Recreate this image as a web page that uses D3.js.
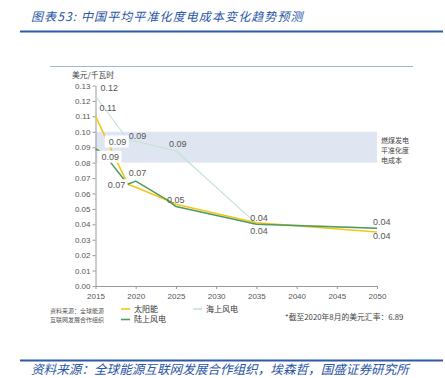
<!DOCTYPE html>
<html>
<head>
<meta charset="utf-8">
<script src="https://cdn.jsdelivr.net/npm/d3@7"></script>
<style>
  body { margin: 0; background: #fff; }
  svg { display: block; }
  .axis text { font-family: "Liberation Sans", Arial, sans-serif; font-size: 8px; fill: #555; }
  .axis path, .axis line { stroke: #999; }
</style>
</head>
<body>
<div id="chart"></div>
<script>

// data
const solarYears = [2015, 2019, 2020, 2024, 2025, 2035, 2050];
const solarValues = [0.110, 0.066, 0.064, 0.0555, 0.053, 0.041, 0.035];

const onshoreYears = [2015, 2016, 2019, 2020, 2024, 2025, 2035, 2050];
const onshoreValues = [0.089, 0.086, 0.066, 0.068, 0.0555, 0.0515, 0.040, 0.0375];

const offshoreYears = [2015, 2019, 2025, 2035, 2050];
const offshoreValues = [0.123, 0.095, 0.0877, 0.0405, 0.0375];

const coalBand = [0.08, 0.10];

const xTicks = [2015, 2020, 2025, 2030, 2035, 2040, 2045, 2050];
const yTicks = [0, 0.01, 0.02, 0.03, 0.04, 0.05, 0.06, 0.07, 0.08, 0.09, 0.10, 0.11, 0.12, 0.13];

// data labels: which series / year they belong to and the printed text
const labelSeries = ['offshore', 'solar', 'offshore', 'offshore', 'offshore', 'onshore', 'onshore', 'onshore', 'onshore', 'offshore', 'solar', 'onshore', 'solar'];
const labelYears = [2015, 2015, 2019, 2019, 2025, 2015, 2020, 2019, 2024, 2035, 2035, 2050, 2050];
const labelTexts = ['0.12', '0.11', '0.09', '0.09', '0.09', '0.09', '0.07', '0.07', '0.05', '0.04', '0.04', '0.04', '0.04'];

// layout of labels (offset from their point, px) - kept apart from the data
const labelOffsets = [[5, -8], [4, -8], [1, -4], [-19, 2], [-7, -7], [6, 8], [-7, -8], [-20, 1], [-1, -1], [-6, -6], [-6, 8], [-4, -6], [-4, 4]];
const labelBoxed = [false, false, false, true, false, true, false, true, false, false, false, false, false];

const series = {
    solar: { name: '太阳能', years: solarYears, values: solarValues, color: '#f2c617', width: 1.6 },
    onshore: { name: '陆上风电', years: onshoreYears, values: onshoreValues, color: '#4f9a5e', width: 1.5 },
    offshore: { name: '海上风电', years: offshoreYears, values: offshoreValues, color: '#c2e2d6', width: 1.1 }
};

const W = 445, H = 378;
const svg = d3.select('#chart').append('svg')
    .attr('width', W)
    .attr('height', H);

const cjk = '"Noto Sans CJK SC", "Noto Sans", sans-serif';
const latin = '"Liberation Sans", Arial, sans-serif';

// title + rule
svg.append('text')
    .attr('x', 31)
    .attr('y', 21)
    .text('图表53:  中国平均平准化度电成本变化趋势预测')
    .style('font-family', cjk)
    .style('font-style', 'italic')
    .style('font-size', '12px')
    .style('letter-spacing', '1.1px')
    .style('fill', '#2a56a5');

svg.append('line')
    .attr('x1', 20).attr('x2', 443)
    .attr('y1', 31.5).attr('y2', 31.5)
    .attr('stroke', '#2e5aa8')
    .attr('stroke-width', 2);

// thin frame line at top of the inner figure
svg.append('line')
    .attr('x1', 50).attr('x2', 413)
    .attr('y1', 66.5).attr('y2', 66.5)
    .attr('stroke', '#a3b6d1')
    .attr('stroke-width', 1);

// scales
const x = d3.scaleLinear().domain([2015, 2050]).range([95.5, 377]);
const y = d3.scaleLinear().domain([0, 0.13]).range([286, 85.5]);

// coal band
svg.append('rect')
    .attr('x', x(2015))
    .attr('y', y(coalBand[1]))
    .attr('width', x(2050) - x(2015))
    .attr('height', y(coalBand[0]) - y(coalBand[1]))
    .attr('fill', '#dfe6f1');

['燃煤发电', '平准化度', '电成本'].forEach((t, i) => {
    svg.append('text')
        .attr('x', 381)
        .attr('y', 142.5 + i * 10)
        .text(t)
        .style('font-family', cjk)
        .style('font-size', '7px')
        .style('fill', '#444');
});

// axes
svg.append('g')
    .attr('class', 'axis')
    .attr('transform', `translate(${x(2015)},0)`)
    .call(d3.axisLeft(y).tickValues(yTicks).tickFormat(d3.format('.2f')).tickSize(3).tickSizeOuter(0).tickPadding(2));

svg.append('g')
    .attr('class', 'axis')
    .attr('transform', `translate(0,${y(0)})`)
    .call(d3.axisBottom(x).tickValues(xTicks).tickFormat(d3.format('d')).tickSize(3).tickSizeOuter(0).tickPadding(4));

svg.append('text')
    .attr('x', 72)
    .attr('y', 78)
    .text('美元/千瓦时')
    .style('font-family', cjk)
    .style('font-size', '7.8px')
    .style('fill', '#444');

// lines
const line = d3.line()
    .x(d => x(d[0]))
    .y(d => y(d[1]));

['offshore', 'solar', 'onshore'].forEach(key => {
    const s = series[key];
    svg.append('path')
        .datum(s.years.map((yr, i) => [yr, s.values[i]]))
        .attr('d', line)
        .attr('fill', 'none')
        .attr('stroke', s.color)
        .attr('stroke-width', s.width)
        .attr('stroke-linejoin', 'round');
});

// data labels
labelTexts.forEach((t, i) => {
    const s = series[labelSeries[i]];
    const idx = s.years.indexOf(labelYears[i]);
    const px = x(s.years[idx]) + labelOffsets[i][0];
    const py = y(s.values[idx]) + labelOffsets[i][1];
    if (labelBoxed[i]) {
        svg.append('rect')
            .attr('x', px - 4)
            .attr('y', py - 6)
            .attr('width', 24)
            .attr('height', 12)
            .attr('fill', '#fff');
    }
    svg.append('text')
        .attr('x', px)
        .attr('y', py)
        .attr('dy', '0.35em')
        .text(t)
        .style('font-family', latin)
        .style('font-size', '9px')
        .style('fill', '#555');
});

// legend
const legendKeys = ['solar', 'onshore', 'offshore'];
const legendPos = [[121, 309], [121, 319.5], [193, 309]];
legendKeys.forEach((key, i) => {
    const s = series[key];
    const [lx, ly] = legendPos[i];
    svg.append('line')
        .attr('x1', lx).attr('x2', lx + 9)
        .attr('y1', ly).attr('y2', ly)
        .attr('stroke', s.color)
        .attr('stroke-width', 1.6);
    svg.append('text')
        .attr('x', lx + 13)
        .attr('y', ly)
        .attr('dy', '0.35em')
        .text(s.name)
        .style('font-family', cjk)
        .style('font-size', '8px')
        .style('fill', '#333');
});

// small source note inside the figure
['资料来源：全球能源', '互联网发展合作组织'].forEach((t, i) => {
    svg.append('text')
        .attr('x', 50)
        .attr('y', 313 + i * 8.5)
        .text(t)
        .style('font-family', cjk)
        .style('font-size', '6px')
        .style('fill', '#555');
});

svg.append('text')
    .attr('x', 285)
    .attr('y', 320)
    .text('*截至2020年8月的美元汇率：6.89')
    .style('font-family', cjk)
    .style('font-size', '7.8px')
    .style('fill', '#444');

// bottom rule + source
svg.append('line')
    .attr('x1', 20).attr('x2', 443)
    .attr('y1', 360.5).attr('y2', 360.5)
    .attr('stroke', '#2e5aa8')
    .attr('stroke-width', 2);

svg.append('text')
    .attr('x', 31)
    .attr('y', 374)
    .text('资料来源：全球能源互联网发展合作组织，埃森哲，国盛证券研究所')
    .style('font-family', cjk)
    .style('font-style', 'italic')
    .style('font-size', '12.6px')
    .style('fill', '#2a56a5');

</script>
</body>
</html>
